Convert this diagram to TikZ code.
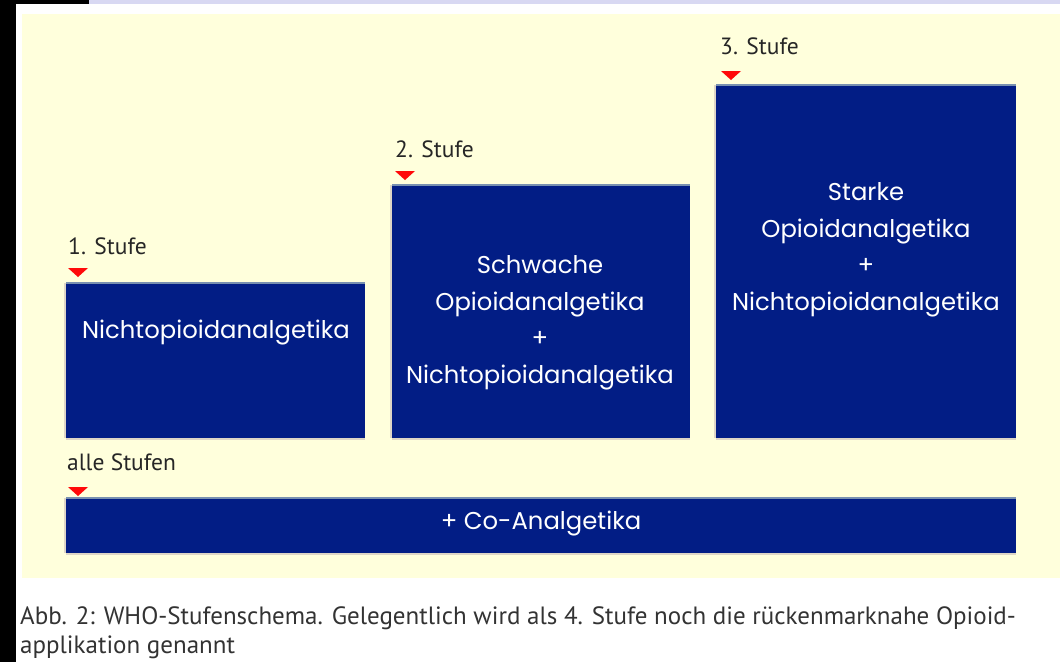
\documentclass[tikz,border=0pt]{standalone}
\usepackage{fontspec}
\setmainfont{PT Sans}
\newfontfamily\boxfont{Poppins}
\definecolor{cream}{RGB}{255,255,220}
\definecolor{whoblue}{RGB}{2,29,133}
\definecolor{topedge}{RGB}{120,144,176}
\definecolor{shadow}{RGB}{222,214,198}
\definecolor{lav}{RGB}{216,216,242}
\definecolor{redtri}{RGB}{255,10,10}
\tikzset{
  stufebox/.style={fill=whoblue, draw=none, inner sep=0pt, anchor=north west},
  boxtext/.style={text=white, font=\boxfont\fontsize{24.3}{36.5}\selectfont, align=center, inner sep=0pt},
  stufelabel/.style={font=\fontsize{23.5}{26}\selectfont, text=black!85, anchor=base west, inner sep=0pt},
  marker/.style={fill=redtri, draw=none},
  caption/.style={font=\fontsize{25}{28}\selectfont, text=black!80, anchor=base west, inner sep=0pt}
}
\begin{document}
\begin{tikzpicture}[x=1pt,y=-1pt]
\useasboundingbox (0,0) rectangle (1060,662);
\fill[white] (0,0) rectangle (1060,662);
\fill[black] (0,0) rectangle (16,662);
\fill[black] (0,0) rectangle (89,4);
\fill[lav] (89,0) rectangle (1060,4);
\fill[cream] (22,14) rectangle (1060,578);
% boxes
\node[stufebox, minimum width=299pt, minimum height=155pt] (b1) at (66,283) {};
\node[stufebox, minimum width=298pt, minimum height=253pt] (b2) at (392,185) {};
\node[stufebox, minimum width=300pt, minimum height=353pt] (b3) at (716,85) {};
\node[stufebox, minimum width=950pt, minimum height=55pt] (b4) at (66,498) {};
\foreach \b in {b1,b2,b3,b4}{
  \draw[topedge, line width=1.5pt] (\b.north west) -- (\b.north east);
  \draw[shadow, line width=2pt] ([yshift=-1pt]\b.south west) -- ([yshift=-1pt]\b.south east);
  \draw[shadow, line width=2pt] ([xshift=-1pt]\b.north west) -- ([xshift=-1pt]\b.south west);
}
% box texts
\node[boxtext] (t1) at (216,333) {Nichtopioidanalgetika};
\node[boxtext] (t2) at (540,323) {Schwache\\Opioidanalgetika\\+\\Nichtopioidanalgetika};
\node[boxtext] (t3) at (866,250) {Starke\\Opioidanalgetika\\+\\Nichtopioidanalgetika};
\node[boxtext] (t4) at (541,524) {+ Co-Analgetika};
% labels
\node[stufelabel] (l1) at (68,254) {1. Stufe};
\node[stufelabel] (l2) at (395,157) {2. Stufe};
\node[stufelabel] (l3) at (720,54) {3. Stufe};
\node[stufelabel] (l4) at (67,470) {alle Stufen};
% markers
\coordinate (m1) at (78,277);
\coordinate (m2) at (405,180);
\coordinate (m3) at (731,80);
\coordinate (m4) at (78,496);
\foreach \m in {m1,m2,m3,m4}{
  \fill[marker] ([xshift=-10pt,yshift=9pt]\m) -- ([xshift=10pt,yshift=9pt]\m) -- (\m) -- cycle;
}
% caption
\node[caption] (c1) at (20,624) {Abb. 2: WHO-Stufenschema. Gelegentlich wird als 4. Stufe noch die rückenmarknahe Opioid-};
\node[caption] (c2) at (20,653) {applikation genannt};
\end{tikzpicture}
\end{document}
